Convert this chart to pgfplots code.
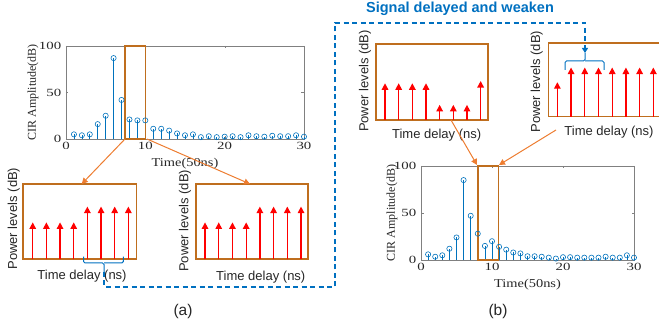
\documentclass[border=0pt]{standalone}
\usepackage{fontspec}
\setmainfont{Liberation Serif}
\newfontfamily\arial{Liberation Sans}
\usepackage{pgfplots}
\pgfplotsset{compat=1.18}
\usetikzlibrary{arrows.meta}
\definecolor{stemblue}{RGB}{0,114,189}
\definecolor{boxbrown}{RGB}{191,110,30}
\definecolor{arrorange}{RGB}{237,125,49}
\definecolor{dashblue}{RGB}{0,112,192}
\pgfplotsset{
 cirax/.style={scale only axis, xmin=0, xmax=30, ymin=0, ymax=100,
   xtick={0,10,20,30}, ytick={0,50,100}, tick align=inside, major tick length=2.5pt,
   axis line style={black!50}, tick style={black!50},
   ticklabel style={font=\fontsize{11}{12}\selectfont, xscale=1.35, text=black!85},
   /pgf/number format/assume math mode=true,
   xlabel={Time(50ns)}, ylabel={CIR Amplitude(dB)},
   label style={font=\fontsize{12}{13}\selectfont, text=black!85}, clip=false},
 stems/.style={ycomb, color=stemblue, line width=0.6pt, mark=o, mark size=2.6pt, mark options={line width=0.6pt}},
 pwr/.style={scale only axis, ymin=0, ymax=100,
   axis line style={boxbrown, line width=1.6pt}, xtick=\empty, ytick=\empty,
   xlabel={Time delay (ns)}, ylabel={Power levels (dB)},
   label style={font=\arial\fontsize{13}{14}\selectfont, text=black!85}, clip=false},
 arr/.style={point meta=none, quiver={u=0, v=\thisrow{h},
     every arrow/.append style={draw=red, fill=red, line width=1.3pt, -{Triangle[length=6.5pt,width=6.5pt]}}},
   draw=red, no marks},
}
\begin{document}
\begin{tikzpicture}[x=1pt,y=1pt]
\useasboundingbox (0,0) rectangle (659,328);
\clip (0,0) rectangle (659,328);

% ---------- main chart (a)
\begin{axis}[cirax, at={(66pt,189pt)}, anchor=south west, width=238pt, height=93pt,
  xlabel style={at={(axis description cs:0.5,-0.26)}, anchor=center, xscale=1.2},
  ylabel style={at={(axis description cs:-0.139,0.5)}, anchor=center}]
\addplot[stems] coordinates {(1,5)(2,4)(3,5)(4,16)(5,25)(6,87)(7,42)(8,21)(9,20)(10,20)
 (11,11)(12,11)(13,9)(14,6)(15,4)(16,5)(17,2)(18,3)(19,2)(20,2.5)
 (21,3)(22,2)(23,4)(24,3)(25,2.5)(26,3.5)(27,3)(28,3)(29,4)(30,2.5)};
\draw[boxbrown, line width=1.6pt] (axis cs:7.4,0) rectangle (axis cs:10,100);
\end{axis}

% ---------- main chart (b)
\begin{axis}[cirax, at={(421pt,68pt)}, anchor=south west, width=213pt, height=94pt,
  xlabel style={at={(axis description cs:0.5,-0.266)}, anchor=center, xscale=1.2},
  ylabel style={at={(axis description cs:-0.136,0.5)}, anchor=center}]
\addplot[stems] coordinates {(1,6)(2,3.5)(3,5)(4,12)(5,24)(6,85)(7,47)(8,28)(9,15)(10,20)
 (11,14)(12,11)(13,8)(14,7)(15,4)(16,4)(17,3.5)(18,2.5)(19,1.5)(20,3)
 (21,3)(22,2.5)(23,2.5)(24,2.5)(25,2.5)(26,3.5)(27,2.5)(28,2.5)(29,5)(30,2.5)};
\draw[boxbrown, line width=1.6pt] (axis cs:8,0) rectangle (axis cs:10.9,100);
\end{axis}

% ---------- panel A1
\begin{axis}[pwr, at={(23.3pt,68.7pt)}, anchor=south west, width=113.4pt, height=75.3pt,
  xmin=0.31, xmax=8.61,
  xlabel style={at={(axis description cs:0.518,-0.23)}, anchor=center},
  ylabel style={at={(axis description cs:-0.085,0.54)}, anchor=center}]
\addplot[arr] table {
x y h
1 0 49
2 0 49
3 0 49
4 0 49
5 0 70
6 0 70
7 0 70
8 0 70
};
\end{axis}

% ---------- panel A2
\begin{axis}[pwr, at={(195.7pt,68.7pt)}, anchor=south west, width=112.6pt, height=75.3pt,
  xmin=0.32, xmax=8.53,
  xlabel style={at={(axis description cs:0.578,-0.235)}, anchor=center},
  ylabel style={at={(axis description cs:-0.095,0.51)}, anchor=center}]
\addplot[arr] table {
x y h
1 0 49
2 0 49
3 0 49
4 0 49
5 0 70
6 0 70
7 0 70
8 0 70
};
\end{axis}

% ---------- panel B1
\begin{axis}[pwr, at={(376pt,208pt)}, anchor=south west, width=112.3pt, height=75.7pt,
  xmin=0.34, xmax=8.56,
  xlabel style={at={(axis description cs:0.54,-0.2)}, anchor=center},
  ylabel style={at={(axis description cs:-0.098,0.515)}, anchor=center}]
\addplot[arr] table {
x y h
1 0 48.5
2 0 48.5
3 0 48.5
4 0 48.5
5 0 20
6 0 20
7 0 20
8 0 51.5
};
\end{axis}

% ---------- panel B2
\begin{axis}[pwr, at={(548.3pt,211.3pt)}, anchor=south west, width=113pt, height=73.4pt,
  xmin=0.34, xmax=8.58,
  xlabel style={at={(axis description cs:0.537,-0.21)}, anchor=center},
  ylabel style={at={(axis description cs:-0.103,0.477)}, anchor=center}]
\addplot[arr] table {
x y h
1 0 47
2 0 67
3 0 67
4 0 67
5 0 67
6 0 67
7 0 67
8 0 67
};
\end{axis}

% ---------- braces and dashed connector
\draw[dashblue, line width=1pt, rounded corners=1.5pt] (83.5,71.3) |- (104,65) -- (104,56);
\draw[dashblue, line width=1pt, rounded corners=1.5pt] (123.3,71.3) |- (104,65);
\draw[dashblue, line width=1pt, rounded corners=1.5pt] (565,258) |- (585,267) -- (585,275);
\draw[dashblue, line width=1pt, rounded corners=1.5pt] (604,258) |- (585,267);
\draw[dashblue, line width=1.1pt, dash pattern=on 5pt off 3.5pt, -{Triangle[length=5pt,width=6pt]}]
  (104,56) -- (104,41) -- (335,41) -- (335,305) -- (585,305) -- (585,275);

% ---------- orange arrows
\draw[arrorange, line width=1pt, -{Triangle[length=6pt,width=6pt]}] (125,189) -- (81.7,144);
\draw[arrorange, line width=1pt, -{Triangle[length=6pt,width=6pt]}] (147,189) -- (250,144);
\draw[arrorange, line width=1pt, -{Triangle[length=6pt,width=6pt]}] (451,208) -- (477,163);
\draw[arrorange, line width=1pt, -{Triangle[length=6pt,width=6pt]}] (556,198) -- (499,163);

% ---------- texts
\node[font=\arial\bfseries\fontsize{14.5}{16}\selectfont, text=dashblue] at (460,319.5) {Signal delayed and weaken};
\node[font=\arial\fontsize{15.5}{17}\selectfont, text=black!85] at (183,17) {(a)};
\node[font=\arial\fontsize{15.5}{17}\selectfont, text=black!85] at (498,17) {(b)};
\end{tikzpicture}
\end{document}
